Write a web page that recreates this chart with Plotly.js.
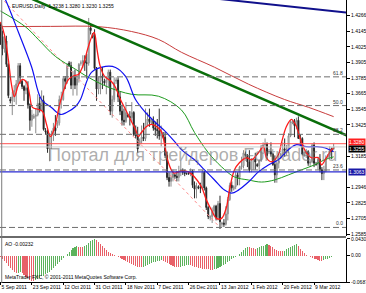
<!DOCTYPE html>
<html><head><meta charset="utf-8">
<script src="https://cdn.plot.ly/plotly-3.0.1.min.js"></script>
<style>html,body{margin:0;padding:0;background:#fff;overflow:hidden}#chart{width:366px;height:293px}</style>
</head><body><div id="chart"></div>
<script>
// ---- time axis (bar index, Sun-Fri daily bars) ----
const tickIdx  = [0,16,32,48,64,80,96,112,128,144,160];
const tickText = ['5 Sep 2011','23 Sep 2011','12 Oct 2011','31 Oct 2011','18 Nov 2011','7 Dec 2011','26 Dec 2011','13 Jan 2012','1 Feb 2012','20 Feb 2012','9 Mar 2012'];

// ---- EURUSD daily OHLC ----
const openP = [
1.4200,1.4105,1.4010,1.4070,1.3890,1.3620,1.3610,1.3640,1.3690,1.3740,
1.3880,1.3760,1.3720,1.3690,1.3710,1.3580,1.3460,1.3480,1.3490,1.3500,
1.3590,1.3540,1.3610,1.3380,1.3370,1.3240,1.3340,1.3350,1.3400,1.3420,
1.3440,1.3620,1.3620,1.3780,1.3760,1.3900,1.3880,1.3730,1.3790,1.3730,
1.3780,1.3900,1.3900,1.3920,1.3900,1.3900,1.4170,1.4120,1.4100,1.3860,
1.3700,1.3760,1.3800,1.3760,1.3750,1.3770,1.3830,1.3530,1.3620,1.3760,
1.3770,1.3640,1.3530,1.3460,1.3450,1.3500,1.3490,1.3480,1.3520,1.3350,
1.3340,1.3280,1.3300,1.3330,1.3320,1.3440,1.3470,1.3440,1.3460,1.3400,
1.3390,1.3380,1.3340,1.3350,1.3330,1.3190,1.3020,1.2990,1.3020,1.3040,
1.3030,1.3020,1.3070,1.3070,1.3060,1.3050,1.3050,1.3050,1.3070,1.2960,
1.2930,1.2950,1.2940,1.2940,1.3060,1.2940,1.2790,1.2710,1.2720,1.2760,
1.2800,1.2710,1.2820,1.2660,1.2670,1.2660,1.2740,1.2850,1.2960,1.2930,
1.2950,1.3040,1.3020,1.3100,1.3110,1.3200,1.3190,1.3140,1.3080,1.3160,
1.3160,1.3120,1.3110,1.3150,1.3260,1.3270,1.3280,1.3220,1.3220,1.3200,
1.3120,1.3040,1.3130,1.3170,1.3200,1.3240,1.3230,1.3240,1.3340,1.3440,
1.3450,1.3420,1.3460,1.3320,1.3320,1.3190,1.3200,1.3220,1.3130,1.3140,
1.3270,1.3120,1.3120,1.3160,1.3080,1.3050,1.3070,1.3180,1.3190,1.3240,
1.3238];
const highP = [
1.4210,1.4150,1.4120,1.4110,1.3900,1.3640,1.3680,1.3730,1.3770,1.3900,
1.3900,1.3770,1.3730,1.3770,1.3760,1.3590,1.3540,1.3510,1.3550,1.3660,
1.3640,1.3690,1.3650,1.3400,1.3390,1.3360,1.3380,1.3440,1.3500,1.3460,
1.3650,1.3680,1.3800,1.3800,1.3900,1.3915,1.3910,1.3840,1.3850,1.3800,
1.3900,1.3920,1.3960,1.3960,1.3970,1.4247,1.4200,1.4130,1.4160,1.3870,
1.3800,1.3860,1.3870,1.3780,1.3800,1.3850,1.3850,1.3650,1.3790,1.3790,
1.3790,1.3680,1.3580,1.3550,1.3600,1.3510,1.3530,1.3600,1.3530,1.3420,
1.3410,1.3320,1.3420,1.3440,1.3550,1.3520,1.3550,1.3470,1.3490,1.3450,
1.3470,1.3550,1.3420,1.3370,1.3370,1.3220,1.3060,1.3060,1.3080,1.3050,
1.3070,1.3110,1.3150,1.3090,1.3080,1.3060,1.3070,1.3090,1.3080,1.2990,
1.2980,1.2960,1.2980,1.3080,1.3070,1.2950,1.2800,1.2730,1.2790,1.2810,
1.2810,1.2840,1.2880,1.2680,1.2700,1.2800,1.2870,1.2980,1.2990,1.2960,
1.3070,1.3060,1.3110,1.3180,1.3230,1.3220,1.3200,1.3230,1.3170,1.3170,
1.3210,1.3130,1.3160,1.3270,1.3290,1.3320,1.3290,1.3240,1.3290,1.3210,
1.3190,1.3140,1.3190,1.3210,1.3290,1.3320,1.3270,1.3360,1.3460,1.3460,
1.3470,1.3480,1.3490,1.3350,1.3330,1.3220,1.3240,1.3230,1.3160,1.3280,
1.3290,1.3140,1.3180,1.3200,1.3100,1.3110,1.3190,1.3200,1.3260,1.3250,
1.3280];
const lowP = [
1.4040,1.3960,1.3980,1.3870,1.3630,1.3590,1.3500,1.3600,1.3580,1.3720,
1.3740,1.3700,1.3610,1.3660,1.3550,1.3380,1.3410,1.3470,1.3360,1.3490,
1.3520,1.3530,1.3380,1.3350,1.3210,1.3145,1.3240,1.3300,1.3340,1.3400,
1.3420,1.3550,1.3610,1.3700,1.3740,1.3870,1.3700,1.3650,1.3700,1.3650,
1.3750,1.3880,1.3860,1.3840,1.3780,1.3880,1.4120,1.4090,1.3850,1.3610,
1.3660,1.3660,1.3700,1.3730,1.3660,1.3710,1.3500,1.3480,1.3600,1.3740,
1.3600,1.3500,1.3420,1.3420,1.3440,1.3480,1.3420,1.3450,1.3340,1.3320,
1.3210,1.3260,1.3280,1.3300,1.3300,1.3420,1.3410,1.3430,1.3380,1.3340,
1.3320,1.3310,1.3260,1.3320,1.3170,1.3000,1.2950,1.2950,1.2990,1.3010,
1.2990,1.2990,1.3030,1.3040,1.3030,1.3040,1.3040,1.3030,1.2940,1.2860,
1.2860,1.2930,1.2900,1.2930,1.2920,1.2770,1.2700,1.2690,1.2670,1.2730,
1.2690,1.2690,1.2624,1.2640,1.2640,1.2650,1.2690,1.2840,1.2910,1.2920,
1.2930,1.2960,1.2960,1.3080,1.3090,1.3180,1.3100,1.3060,1.3060,1.3080,
1.3080,1.3100,1.3070,1.3140,1.3200,1.3210,1.3160,1.3200,1.3180,1.3110,
1.2980,1.2980,1.3090,1.3160,1.3190,1.3180,1.3190,1.3210,1.3330,1.3430,
1.3330,1.3390,1.3320,1.3260,1.3190,1.3180,1.3170,1.3110,1.3100,1.3130,
1.3100,1.3110,1.3080,1.3060,1.3000,1.3000,1.3060,1.3170,1.3160,1.3160,
1.3230];
const closeP = [
1.4105,1.4010,1.4070,1.3890,1.3650,1.3610,1.3640,1.3690,1.3740,1.3880,
1.3790,1.3720,1.3690,1.3710,1.3580,1.3460,1.3500,1.3490,1.3500,1.3590,
1.3540,1.3610,1.3390,1.3370,1.3240,1.3340,1.3350,1.3400,1.3380,1.3440,
1.3620,1.3620,1.3780,1.3760,1.3880,1.3880,1.3730,1.3790,1.3730,1.3780,
1.3890,1.3900,1.3920,1.3900,1.3900,1.4170,1.4150,1.4100,1.3860,1.3700,
1.3760,1.3800,1.3790,1.3750,1.3770,1.3830,1.3530,1.3620,1.3750,1.3770,
1.3640,1.3530,1.3460,1.3450,1.3520,1.3490,1.3480,1.3520,1.3350,1.3340,
1.3240,1.3300,1.3330,1.3320,1.3440,1.3470,1.3450,1.3460,1.3400,1.3390,
1.3380,1.3340,1.3380,1.3330,1.3190,1.3020,1.2990,1.3020,1.3050,1.3030,
1.3020,1.3070,1.3070,1.3060,1.3050,1.3050,1.3050,1.3070,1.2960,1.2930,
1.2950,1.2940,1.2940,1.3060,1.2940,1.2790,1.2720,1.2720,1.2760,1.2800,
1.2710,1.2820,1.2680,1.2670,1.2660,1.2740,1.2850,1.2960,1.2940,1.2950,
1.3040,1.3020,1.3100,1.3110,1.3210,1.3190,1.3140,1.3080,1.3160,1.3160,
1.3140,1.3110,1.3150,1.3260,1.3270,1.3280,1.3190,1.3220,1.3200,1.3120,
1.3040,1.3130,1.3150,1.3200,1.3240,1.3230,1.3240,1.3340,1.3450,1.3450,
1.3420,1.3460,1.3320,1.3320,1.3200,1.3200,1.3220,1.3130,1.3140,1.3270,
1.3130,1.3120,1.3160,1.3080,1.3050,1.3070,1.3170,1.3190,1.3240,1.3220,
1.3255];

// ---- moving averages (bar index, price) ----
const maFastX = [0,2,4,5.6,7.1,9.2,11.2,13.3,14.8,16.3,19.4,21.4,23.5,25.5,27.6,29.6,31.6,34.7,37.8,39.8,42.3,44.4,46.4,47.8,49.3,50.8,53,56.6,58.7,61.2,63.8,66.3,68.9,70.4,71.9,74.5,77,79.6,82.1,84.2,85.7,88.3,90.8,92.3,95.9,99,102.6,105.1,107.7,110.2,112.8,115.3,116.8,119.4,121.9,125.5,128.1,131.6,134.2,135.7,138.3,141.8,143.4,145.9,148.5,151,153.6,156.1,158.7,162.2,163.8,166.3,168.9,170];
const maFastY = [1.4217,1.4117,1.3927,1.3735,1.3643,1.3735,1.3774,1.3751,1.3659,1.3559,1.3543,1.3528,1.3428,1.3335,1.3404,1.3543,1.3659,1.3774,1.3805,1.3813,1.3889,1.4005,1.4097,1.4135,1.4000,1.3880,1.3800,1.3758,1.3712,1.3620,1.3543,1.3466,1.3389,1.3335,1.3366,1.3412,1.3428,1.3412,1.3373,1.3234,1.3133,1.3055,1.3063,1.3071,1.3063,1.3024,1.2947,1.2846,1.2768,1.2706,1.2706,1.2791,1.2923,1.3079,1.3133,1.3172,1.3156,1.3210,1.3257,1.3172,1.3141,1.3195,1.3288,1.3412,1.3467,1.3412,1.3288,1.3210,1.3172,1.3172,1.3117,1.3172,1.3234,1.3245];
const maMidX = [0,2.6,9.2,15.8,20.9,26,30.6,33.7,38.3,40.8,46.4,53.6,58.7,63.8,68.9,74,79.1,84.2,89.3,92.3,99,104.1,109.2,114.3,117.9,121.4,126.5,131.6,136.7,141.8,146.9,151,156.1,161.2,165.3,170];
const maMidY = [1.4460,1.4385,1.4135,1.3874,1.3620,1.3558,1.3505,1.3520,1.3566,1.3620,1.3828,1.3874,1.3866,1.3797,1.3620,1.3520,1.3443,1.3373,1.3288,1.3234,1.3156,1.3079,1.3001,1.2923,1.2900,1.2923,1.2985,1.3063,1.3117,1.3156,1.3234,1.3273,1.3257,1.3257,1.3249,1.3218];
const maSlowX = [0,12.8,19.4,28.1,38.3,44.9,55.1,66.8,80.6,92.3,99,106.1,112.8,119.4,126.5,133.2,139.8,146.9,153.6,160.2,165.3,170];
const maSlowY = [1.4300,1.4178,1.4080,1.3950,1.3852,1.3790,1.3714,1.3660,1.3645,1.3540,1.3366,1.3210,1.3102,1.3024,1.3001,1.2985,1.3001,1.3040,1.3079,1.3117,1.3156,1.3179];
const ma200X = [0,25.5,50,66.8,80.6,92.3,109.2,126.5,144.9,157.1,170];
const ma200Y = [1.4180,1.4182,1.4180,1.4143,1.4082,1.3983,1.3868,1.3738,1.3620,1.3560,1.3488];

// ---- drawn objects ----
const trendX = [10,180], trendY = [1.4433,1.3321];          // green trend line
const topLineX = [100,180], topLineY = [1.4412,1.4282];     // navy line
const fiboBaseX = [-6.5,112], fiboBaseY = [1.4510,1.2636];  // fibo anchor line
const fiboNames = ['0.0','23.6','38.2','50.0','61.8'];
const fiboPrices = [1.2636,1.3078,1.3352,1.3573,1.3794];
const hLineBlue = 1.3063, hLineRed = 1.3280, bidPrice = 1.3255;

// ---- price axis labels ----
const priceTicks = [1.2585,1.2705,1.2825,1.2946,1.3185,1.3425,1.3545,1.3665,1.3785,1.3905,1.4025,1.4145,1.4266];

// ---- Awesome Oscillator ----
const ao = [
-0.004,-0.008,-0.013,-0.019,-0.026,-0.032,-0.037,-0.042,-0.045,-0.044,
-0.042,-0.045,-0.050,-0.055,-0.059,-0.063,-0.066,-0.067,-0.064,-0.060,
-0.057,-0.054,-0.052,-0.049,-0.046,-0.042,-0.037,-0.032,-0.027,-0.022,
-0.017,-0.012,-0.007,-0.002,0.004,0.009,0.014,0.019,0.023,0.025,
0.023,0.022,0.021,0.024,0.028,0.033,0.038,0.041,0.043,0.040,
0.035,0.029,0.024,0.019,0.014,0.010,0.006,0.003,0.001,-0.001,
-0.003,-0.006,-0.009,-0.012,-0.015,-0.018,-0.020,-0.023,-0.025,-0.027,
-0.029,-0.030,-0.031,-0.029,-0.027,-0.025,-0.022,-0.020,-0.018,-0.016,
-0.014,-0.013,-0.012,-0.014,-0.016,-0.019,-0.022,-0.025,-0.027,-0.029,
-0.030,-0.031,-0.030,-0.028,-0.026,-0.025,-0.024,-0.025,-0.027,-0.029,
-0.031,-0.032,-0.033,-0.034,-0.0345,-0.035,-0.036,-0.037,-0.038,-0.036,
-0.034,-0.032,-0.030,-0.027,-0.024,-0.021,-0.018,-0.014,-0.010,-0.007,
-0.004,-0.001,0.003,0.009,0.015,0.020,0.023,0.021,0.020,0.019,
0.018,0.020,0.022,0.024,0.026,0.028,0.029,0.027,0.025,0.022,
0.018,0.015,0.013,0.012,0.011,0.013,0.016,0.019,0.023,0.026,
0.028,0.029,0.025,0.018,0.011,0.006,0.002,-0.002,-0.005,-0.007,
-0.009,-0.010,-0.012,-0.013,-0.014,-0.012,-0.010,-0.008,-0.006,-0.004,
-0.00232];

const idx = openP.map((_, i) => i);
const aoColors = ao.map((v, i) => (i > 0 && v > ao[i-1]) ? 'rgb(92,178,92)' : 'rgb(232,96,104)');

const FONT = 'Liberation Sans, Arial, sans-serif';
const traces = [
  {type:'scatter', mode:'lines', x:fiboBaseX, y:fiboBaseY, line:{color:'#ff8c8c', width:1, dash:'dot'}, hoverinfo:'skip'},
  {type:'scatter', mode:'lines', x:ma200X, y:ma200Y, line:{color:'#c83c3c', width:1, shape:'spline'}, hoverinfo:'skip'},
  {type:'scatter', mode:'lines', x:maSlowX, y:maSlowY, line:{color:'#1e9b1e', width:1, shape:'spline'}, hoverinfo:'skip'},
  {type:'scatter', mode:'lines', x:maMidX, y:maMidY, line:{color:'#1010f0', width:1.2, shape:'spline'}, hoverinfo:'skip'},
  {type:'candlestick', x:idx, open:openP, high:highP, low:lowP, close:closeP,
   increasing:{line:{color:'#8a8a8a', width:1}, fillcolor:'#ffffff'},
   decreasing:{line:{color:'#2a2a2a', width:1}, fillcolor:'#000000'},
   whiskerwidth:0, hoverinfo:'skip'},
  {type:'scatter', mode:'lines', x:maFastX, y:maFastY, line:{color:'#ff1a1a', width:1.3, shape:'spline'}, hoverinfo:'skip'},
  {type:'scatter', mode:'lines', x:trendX, y:trendY, line:{color:'#0a6e0a', width:2.5}, hoverinfo:'skip'},
  {type:'scatter', mode:'lines', x:topLineX, y:topLineY, line:{color:'#10108c', width:2}, hoverinfo:'skip'},
  {type:'bar', x:idx, y:ao, yaxis:'y2', marker:{color:aoColors, line:{width:0}}, width:0.55, hoverinfo:'skip'}
];

const shapes = [];
fiboPrices.forEach(p => shapes.push({type:'line', xref:'paper', x0:0, x1:1, yref:'y', y0:p, y1:p, line:{color:'#6e6e6e', width:1, dash:'6px,3px'}}));
shapes.push({type:'line', xref:'paper', x0:0, x1:1, yref:'y', y0:hLineBlue, y1:hLineBlue, line:{color:'#2a2ad0', width:1.3}});
shapes.push({type:'line', xref:'paper', x0:0, x1:1, yref:'y', y0:hLineRed, y1:hLineRed, line:{color:'#ff5050', width:1}});
shapes.push({type:'line', xref:'paper', x0:0, x1:1, yref:'y', y0:bidPrice, y1:bidPrice, line:{color:'#c8c8c8', width:1}});
// panel separator and left border
shapes.push({type:'rect', xref:'paper', x0:0, x1:1, yref:'paper', y0:0.1590, y1:0.1660, fillcolor:'#6a6a6a', line:{width:0}});
shapes.push({type:'line', xref:'paper', x0:0.005, x1:0.005, yref:'paper', y0:0, y1:1, line:{color:'#7a7a7a', width:1}});

const annotations = [];
fiboPrices.forEach((p, k) => annotations.push({xref:'paper', x:0.997, xanchor:'right', yref:'y', y:p, yanchor:'bottom', yshift:-1, text:fiboNames[k], showarrow:false, font:{family:FONT, size:5, color:'#333'}}));
const boxLabel = (p, txt, bg, dy) => ({xref:'paper', x:1, xanchor:'left', xshift:2, yref:'y', y:p, yanchor:'middle', yshift:dy, text:txt, showarrow:false, bgcolor:bg, borderpad:0, font:{family:FONT, size:5, color:'#ffffff'}});
annotations.push(boxLabel(hLineRed, hLineRed.toFixed(4), '#ff2020', 2));
annotations.push(boxLabel(bidPrice, bidPrice.toFixed(4), '#000000', -2));
annotations.push(boxLabel(hLineBlue, hLineBlue.toFixed(4), '#1a1aa8', 0));
annotations.push({xref:'paper', x:0.555, yref:'y', y:1.3195, text:'Портал для трейдеров Fortrader.ru', showarrow:false, font:{family:FONT, size:18, color:'rgba(120,120,120,0.6)'}});
annotations.push({xref:'paper', x:0.028, xanchor:'left', yref:'paper', y:0.998, yanchor:'top', text:'EURUSD,Daily  1.3238 1.3280 1.3230 1.3255', showarrow:false, font:{family:FONT, size:5, color:'#000'}});
annotations.push({xref:'paper', x:0.008, xanchor:'left', yref:'paper', y:0.155, yanchor:'top', text:'AO -0.00232', showarrow:false, font:{family:FONT, size:5, color:'#000'}});
annotations.push({xref:'paper', x:0.008, xanchor:'left', yref:'paper', y:0.004, yanchor:'bottom', text:'MetaTrader FXC, © 2001-2011 MetaQuotes Software Corp.', showarrow:false, font:{family:FONT, size:5, color:'#000'}});

const layout = {
  width:366, height:293,
  margin:{l:0, r:20, t:0, b:10},
  paper_bgcolor:'#ffffff', plot_bgcolor:'#ffffff',
  showlegend:false, bargap:0,
  xaxis:{range:[-0.26,176.3], anchor:'y2', tickmode:'array', tickvals:tickIdx, ticktext:tickText,
         tickangle:0, ticks:'outside', ticklen:2, tickcolor:'#000', ticklabelposition:'outside right',
         tickfont:{family:FONT, size:5, color:'#000'}, showgrid:false, zeroline:false,
         showline:true, linecolor:'#000', linewidth:1, rangeslider:{visible:false}, fixedrange:true},
  yaxis:{domain:[0.166,1], range:[1.2570,1.4385], side:'right', tickmode:'array', tickvals:priceTicks,
         ticktext:priceTicks.map(v=>v.toFixed(4)), ticks:'outside', ticklen:3, tickcolor:'#000',
         tickfont:{family:FONT, size:5, color:'#000'}, showgrid:false, zeroline:false,
         showline:true, linecolor:'#000', linewidth:1, fixedrange:true},
  yaxis2:{domain:[0.0035,0.1555], range:[-0.0687,0.04303], side:'right', tickmode:'array',
         tickvals:[-0.0687,0,0.04303], ticktext:['-0.0687','0.00','0.04303'], ticks:'outside', ticklen:3,
         tickcolor:'#000', tickfont:{family:FONT, size:5, color:'#000'}, showgrid:false, zeroline:false,
         showline:true, linecolor:'#000', linewidth:1, fixedrange:true},
  shapes, annotations
};
Plotly.newPlot('chart', traces, layout, {staticPlot:true, displayModeBar:false});
</script></body></html>
